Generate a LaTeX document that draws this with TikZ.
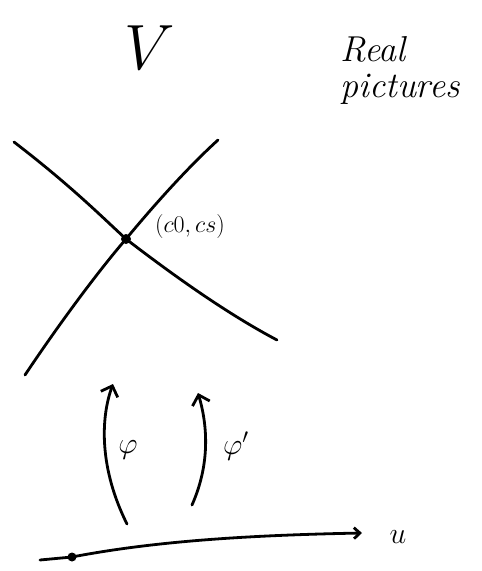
\RequirePackage{fix-cm}
\documentclass[tikz,border=0pt]{standalone}
\usepackage{tikz}
\usetikzlibrary{arrows.meta,positioning,calc}

\begin{document}
\begin{tikzpicture}[
  x=1pt, y=-1pt,
  pen/.style={
    line width=2.8pt,
    line cap=round,
    line join=round
  },
  dot/.style={
    circle,
    fill=black,
    inner sep=0pt,
    minimum size=10pt
  },
  lbl/.style={
    font=\fontsize{30}{32}\selectfont,
    inner sep=1pt
  }
]
\useasboundingbox (0,0) rectangle (482,571);

% titles
\node[font=\fontsize{64}{64}\selectfont] (vee) at (150,48) {$V$};
\node[font=\fontsize{36}{36}\selectfont\itshape,align=left] (title) at (400,70) {Real\\pictures};

% the two curves through the point
\coordinate (a1) at (14,142);
\coordinate (a2) at (277,340);
\coordinate (b1) at (218,140);
\coordinate (b2) at (25,375);
\node[dot] (pt) at (126,239) {};
\node[lbl,font=\fontsize{24}{26}\selectfont] (ptlbl) at (190,226) {$(c0,cs)$};

\draw[pen] (a1) .. controls (70,185) and (100,215) .. (pt.center)
  .. controls (160,265) and (220,310) .. (a2);
\draw[pen] (b1) .. controls (185,170) and (150,210) .. (pt.center)
  .. controls (95,275) and (55,330) .. (b2);

% flows
\coordinate (f1) at (127,524);
\coordinate (t1) at (113,384);
\coordinate (f2) at (192,505);
\coordinate (t2) at (198,393);
\draw[pen,-{Straight Barb[length=9pt,width=18pt]}]
  (f1) .. controls (100,470) and (100,420) .. (t1);
\draw[pen,-{Straight Barb[length=9pt,width=18pt]}]
  (f2) .. controls (212,460) and (206,420) .. (t2);
\node[lbl] (phi) at (128,450) {$\varphi$};
\node[lbl] (phip) at (236,446) {$\varphi'$};

% base line
\coordinate (u0) at (40,560);
\coordinate (u1) at (362,533);
\node[dot,minimum size=9pt] (base) at (72,557) {};
\draw[pen,-{Straight Barb[length=6pt,width=11pt]}]
  (u0) -- (base.center) .. controls (160,540) and (260,535) .. (u1);
\node[lbl] (ulbl) at (398,537) {$u$};

\end{tikzpicture}
\end{document}
